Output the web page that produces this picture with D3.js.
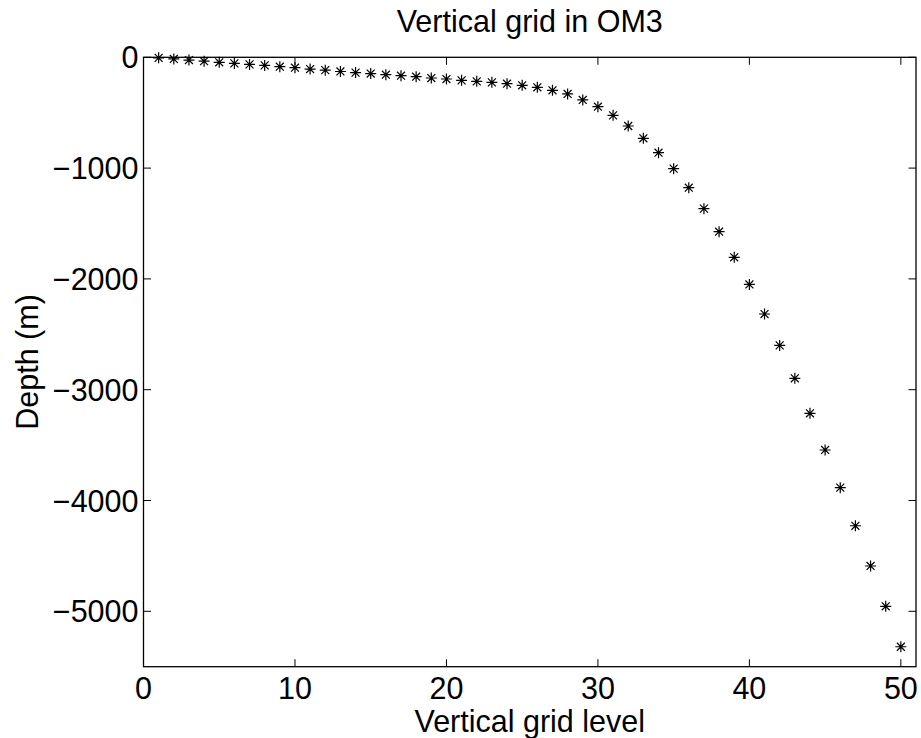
<!DOCTYPE html>
<html><head><meta charset="utf-8">
<script src="https://cdn.jsdelivr.net/npm/d3@7"></script>
<style>body{margin:0;background:#fff}svg{display:block}text{font-family:"Liberation Sans",Arial,sans-serif;fill:#000}</style>
</head><body><svg id="c" width="921" height="738"></svg>
<script>
const levels = d3.range(1, 51);
const depths = [-5,-15,-25,-35,-45,-55,-64,-73,-85,-94,
 -106,-116,-128,-138,-147,-157,-166,-175,-187,-196,
 -208,-217,-226,-238,-253,-271,-298,-331,-385,-446,
 -524,-620,-731,-861,-1005,-1177,-1366,-1574,-1805,-2050,
 -2317,-2600,-2897,-3213,-3544,-3884,-4228,-4591,-4955,-5320];
const xTicks = [0,10,20,30,40,50];
const yTicks = [0,-1000,-2000,-3000,-4000,-5000];
const title = "Vertical grid in OM3", xLabel = "Vertical grid level", yLabel = "Depth (m)";

const L=143.5, R=916, T=57.3, B=666.7;
const svg = d3.select("#c");
const x = d3.scaleLinear().domain([0,51]).range([L,R]);
const y = d3.scaleLinear().domain([-5500,0]).range([B,T]);
const fs = 30.5, tl = 7.5;
const g = svg.append("g");
g.append("rect").attr("x",L).attr("y",T).attr("width",R-L).attr("height",B-T)
 .attr("fill","none").attr("stroke","#000").attr("stroke-width",1.3);
const tk = g.append("g").attr("stroke","#000").attr("stroke-width",1);
xTicks.forEach(v=>{
  tk.append("line").attr("x1",x(v)).attr("x2",x(v)).attr("y1",B).attr("y2",B-tl);
  tk.append("line").attr("x1",x(v)).attr("x2",x(v)).attr("y1",T).attr("y2",T+tl);
  g.append("text").attr("x",x(v)).attr("y",B+32).attr("text-anchor","middle").attr("font-size",fs).text(v);
});
yTicks.forEach(v=>{
  tk.append("line").attr("x1",L).attr("x2",L+tl).attr("y1",y(v)).attr("y2",y(v));
  tk.append("line").attr("x1",R).attr("x2",R-tl).attr("y1",y(v)).attr("y2",y(v));
  g.append("text").attr("x",L-5).attr("y",y(v)+11).attr("text-anchor","end").attr("font-size",fs)
   .text(v<0?"\u2212"+Math.abs(v):v);
});
const s=5.5, d=s*0.72;
const star = `M${-s},0H${s}M0,${-s}V${s}M${-d},${-d}L${d},${d}M${-d},${d}L${d},${-d}`;
g.append("g").selectAll("path").data(levels.map((l,i)=>[l,depths[i]])).join("path")
 .attr("transform",p=>`translate(${x(p[0])},${y(p[1])})`).attr("d",star)
 .attr("stroke","#000").attr("stroke-width",1.2).attr("fill","none");
g.append("text").attr("x",(L+R)/2).attr("y",32).attr("text-anchor","middle").attr("font-size",fs).text(title);
g.append("text").attr("x",(L+R)/2).attr("y",732).attr("text-anchor","middle").attr("font-size",fs).text(xLabel);
g.append("text").attr("transform",`translate(38,${(T+B)/2}) rotate(-90)`).attr("text-anchor","middle").attr("font-size",fs).text(yLabel);
</script></body></html>
